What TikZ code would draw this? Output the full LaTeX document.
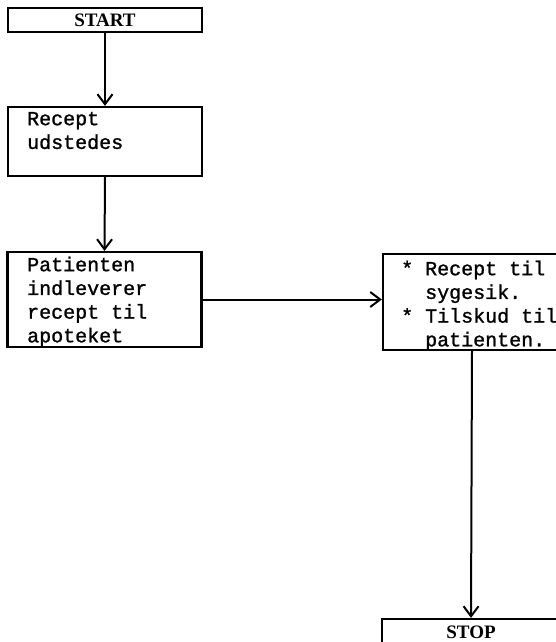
\documentclass[tikz,border=0pt]{standalone}
\usepackage{fontspec}
\setmainfont{Liberation Serif}
\setmonofont[FakeBold=1.2]{Liberation Mono}
\usetikzlibrary{arrows.meta}
\tikzset{
  box/.style={draw, line width=2.2pt, inner sep=0pt},
  txt/.style={anchor=north west, inner sep=0pt, align=left,
    font=\ttfamily\fontsize{20}{23.7}\selectfont},
  term/.style={font=\bfseries\fontsize{19}{21}\selectfont},
  flow/.style={line width=2pt, -{Straight Barb[length=10pt,width=15pt,line width=2pt]}}
}
\newcommand{\topstrut}{\rule{0pt}{15pt}}
\begin{document}
\begin{tikzpicture}[x=1pt,y=-1pt]
\useasboundingbox (0,0) rectangle (556,642);
\clip (0,0) rectangle (556,642);
% boxes
\node[box, minimum width=194pt, minimum height=24pt] (start) at (105,20) {};
\node[term] (starttxt) at (105,20.5) {START};
\node[box, minimum width=194pt, minimum height=69pt] (recept) at (105,141.5) {};
\node[txt] (recepttxt) at (27,110) {\topstrut Recept\\udstedes};
\node[box, minimum width=194pt, minimum height=95pt] (pat) at (104.5,299.5) {};
\node[txt] (pattxt) at (27,256) {\topstrut Patienten\\indleverer\\recept til\\apoteket};
\node[box, minimum width=178pt, minimum height=96pt] (right) at (472,302) {};
\node[txt] (righttxt) at (401,260) {\topstrut * Recept til\\\hphantom{* }sygesik.\\* Tilskud til\\\hphantom{* }patienten.};
\node[box, minimum width=178pt, minimum height=28pt] (stop) at (471,633) {};
\node[term] (stoptxt) at (471,632) {STOP};
% connectors
\draw[flow] (start.south) -- (recept.north);
\draw[flow] (recept.south) -- (pat.north);
\draw[flow] (pat.east) -- (pat.east -| right.west);
\draw[flow] (right.south) -- (stop.north);
\end{tikzpicture}
\end{document}
